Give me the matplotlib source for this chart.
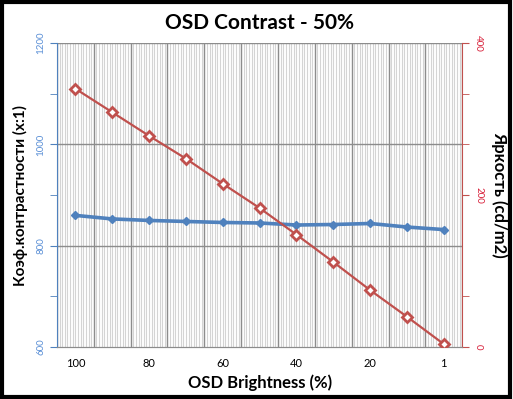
import numpy as np
import matplotlib.pyplot as plt
from matplotlib.patches import Rectangle

# Data
brightness = ['100', '90', '80', '70', '60', '50', '40', '30', '20', '10', '1']
contrast = [860, 853, 850, 848, 846, 845, 841, 842, 844, 837, 832]
luminance = [340, 309, 278, 248, 215, 183, 148, 112, 75, 40, 4]

blue = '#4f81bd'
red = '#c0504d'

plt.rcParams['font.family'] = ['Lato', 'DejaVu Sans']

fig = plt.figure(figsize=(5.13, 3.99), dpi=100)
ax = fig.add_axes([0.111, 0.130, 0.790, 0.762])
ax2 = ax.twinx()

x = np.arange(len(brightness))

# dense light vertical lines + darker category boundaries
for xv in np.arange(-0.5, 10.5, 1 / 14):
    ax.axvline(xv, color='#d4d4d4', lw=0.8, zorder=0)
for xv in np.arange(-0.5, 11.0, 1.0):
    ax.axvline(xv, color='#8c8c8c', lw=1.0, zorder=1)
for yv in [800, 1000, 1200]:
    ax.axhline(yv, color='#8c8c8c', lw=1.0, zorder=1)

ax.plot(x, contrast, color=blue, lw=2.6, marker='D', ms=4.5, zorder=3)
ax2.plot(x, luminance, color=red, lw=1.6, marker='D', ms=5.5,
         mfc='white', mec=red, mew=2, zorder=3)

ax.set_xlim(-0.5, 10.5)
ax.set_ylim(600, 1200)
ax2.set_ylim(0, 400)

ax.set_xticks(x[::2])
ax.set_xticklabels(brightness[::2], fontsize=8)
ax.tick_params(axis='x', length=0, pad=8)

ax.set_yticks([600, 800, 1000, 1200])
ax.set_yticks([700, 900, 1100], minor=True)
ax.tick_params(axis='y', which='both', color=blue, labelcolor='#5a8fd6',
               labelsize=7, length=5, direction='out')
for lab in ax.get_yticklabels():
    lab.set_rotation(90)
    lab.set_va('center')

ax2.set_yticks([0, 200, 400])
ax2.set_yticks([400 / 6, 400 / 3 * 2 / 2 * 2, 400 * 5 / 6], minor=True)
ax2.tick_params(axis='y', which='both', color=red, labelcolor='#d8203a',
                labelsize=7, length=5, direction='out')
for lab in ax2.get_yticklabels():
    lab.set_rotation(-90)
    lab.set_va('center')

for a in (ax, ax2):
    a.spines['top'].set_visible(False)
    a.spines['bottom'].set_color('#8c8c8c')
ax.spines['left'].set_color(blue)
ax.spines['right'].set_visible(False)
ax2.spines['left'].set_visible(False)
ax2.spines['right'].set_color(red)

ax.set_title('OSD Contrast - 50%', fontsize=15, fontweight='bold', pad=10)
ax.set_xlabel('OSD Brightness (%)', fontsize=12, fontweight='bold', labelpad=4)
ax.set_ylabel('Коэф.контрастности (x:1)', fontsize=11, fontweight='bold', labelpad=6)
ax2.set_ylabel('Яркость (cd/m2)', fontsize=12, fontweight='bold', rotation=-90, labelpad=18)

fig.patches.append(Rectangle((0.003, 0.004), 0.992, 0.99, transform=fig.transFigure,
                             fill=False, edgecolor='black', lw=3))

fig.savefig('out.png', dpi=100)
